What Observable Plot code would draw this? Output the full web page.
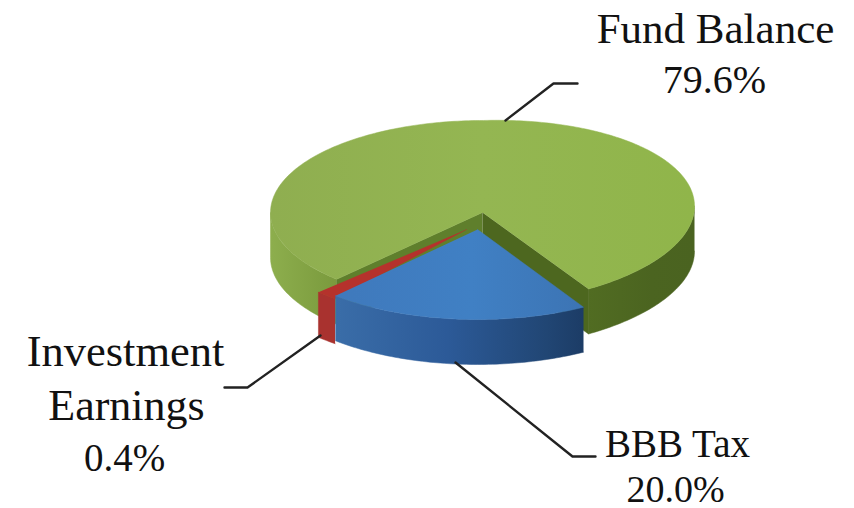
<!DOCTYPE html>
<html><head><meta charset="utf-8">
<script src="https://cdn.jsdelivr.net/npm/d3@7"></script>
<script src="https://cdn.jsdelivr.net/npm/@observablehq/plot@0.6"></script>
<style>html,body{margin:0;background:#fff}svg{display:block}</style>
</head><body><div id="chart"></div>
<script>
// Data
const categories = ["Fund Balance", "BBB Tax", "Investment Earnings"];
const shares = [79.6, 20.0, 0.4];
const labelLines = ["Fund Balance\n79.6%", "BBB Tax\n20.0%", "Investment\nEarnings\n0.4%"];

// Pie geometry (picture units)
const RX = 212, RY = 92, DEPTH = 45, SKEW = -0.03;
const rad = d => d * Math.PI / 180;
const blueStart = 60;
const blueEnd = blueStart + shares[1] * 3.6;
const greenStart = blueEnd + shares[2] * 3.6;
const greenEnd = greenStart + shares[0] * 3.6;
const redA1 = 134.3, redVisibleSweep = 6; // thin slice is drawn wider, as in the original; part sits under the blue slice
const redA0 = redA1 - redVisibleSweep;
const C = {green: [482, 212], blue: [477, 227], red: [466, 226]};
const APEX = {green: [482, 212], blue: [477, 229], red: [466, 229]};

const pt = (c, a, dz = 0, k = 0) => {
  const dx = RX * Math.cos(rad(a));
  return [c[0] + dx, c[1] + RY * Math.sin(rad(a)) + dz + k * Math.max(dx, 0)];
};
const arc = (c, a0, a1, dz = 0, k = 0) => {
  const n = Math.max(2, Math.ceil(Math.abs(a1 - a0)));
  return d3.range(n + 1).map(i => pt(c, a0 + (a1 - a0) * i / n, dz, k));
};
const face = (c, apex, a0, a1, k = 0) => [apex, ...arc(c, a0, a1, 0, k)];
const rim = (c, a0, a1, k = 0) => [...arc(c, a0, a1, 0, k), ...arc(c, a1, a0, DEPTH, k)];
const wall = (c, a, k = 0) => { const o = pt(c, a, 0, k); return [c, o, [o[0], o[1] + DEPTH], [c[0], c[1] + DEPTH]]; };

const blur = "blur(0.7px)";
const poly = (pts, fill) => Plot.line(pts, {
  x: d => d[0], y: d => d[1], fill, stroke: fill, strokeWidth: 0.5, imageFilter: blur, curve: "linear"
});

// Gradients
const grads = {
  gTop: [[0, "#8fae50"], [0.5, "#94b652"], [1, "#90b54a"]],
  gRimL: [[0, "#8dae4d"], [1, "#7a9a3d"]],
  gRimR: [[0, "#516c22"], [0.6, "#4b6420"], [1, "#4a6320"]],
  bTop: [[0, "#3f79bc"], [0.55, "#4080c4"], [1, "#3c74b4"]],
  bRim: [[0, "#3a6da8"], [0.45, "#2c5a98"], [0.85, "#214674"], [1, "#1c3c66"]]
};
const defsMark = () => {
  const defs = d3.create("svg:defs");
  for (const [id, stops] of Object.entries(grads)) {
    const g = defs.append("linearGradient").attr("id", id);
    for (const [o, c] of stops) g.append("stop").attr("offset", o).attr("stop-color", c);
  }
  return defs.node();
};

// Leaders
const leaders = [
  [[505, 120], [553, 83], [577, 83]],
  [[455, 362], [572, 456], [595, 456]],
  [[320, 335], [247, 387], [224, 387]]
];

// Label layout: centre x, baselines and font size for each line of each label
const labelLayout = [
  [[715, 42, 43], [714, 92, 40]],
  [[677, 456, 39], [675, 501, 38]],
  [[125, 365, 44.5], [126, 419, 44], [124, 470, 39]]
];
const labels = labelLines.flatMap((t, i) => t.split("\n").map((line, j) => {
  const [x, base, size] = labelLayout[i][j];
  return {line, x, y: base - 0.32 * size, size};
}));

const plot = Plot.plot({
  width: 854, height: 508, margin: 0,
  x: {domain: [0, 854], range: [0, 854], axis: null},
  y: {domain: [0, 508], range: [0, 508], axis: null},
  marks: [
    defsMark,
    poly(rim(C.green, greenStart, 180, SKEW), "url(#gRimL)"),
    poly(rim(C.green, 0, blueStart, SKEW), "url(#gRimR)"),
    poly(wall(C.green, greenStart, SKEW), "#5f7f2c"),
    poly(wall(C.green, blueStart, SKEW), "#4d671f"),
    poly(face(C.green, APEX.green, greenStart, greenEnd, SKEW), "url(#gTop)"),
    poly(rim(C.red, redA0, redA1), "#a9322f"),
    poly(face(C.red, APEX.red, redA0, redA1), "#b5322c"),
    poly(rim(C.blue, blueStart, blueEnd), "url(#bRim)"),
    poly(face(C.blue, APEX.blue, blueStart, blueEnd), "url(#bTop)"),
    ...leaders.map(l => Plot.line(l, {x: d => d[0], y: d => d[1], stroke: "#222", strokeWidth: 2.4, curve: "linear"})),
    Plot.text(labels, {
      x: "x", y: "y", text: "line", lineAnchor: "middle", textAnchor: "middle",
      fontFamily: "Liberation Serif", fontSize: d => d.size, fill: "#111"
    })
  ]
});
document.getElementById("chart").append(plot);
</script></body></html>
